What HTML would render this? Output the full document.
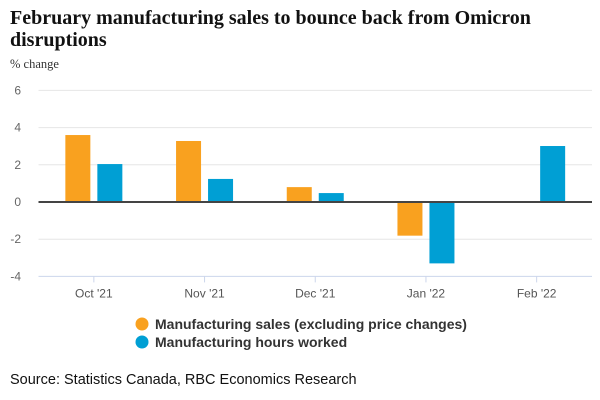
<!DOCTYPE html>
<html><head><meta charset="utf-8"><style>
html,body{margin:0;padding:0;background:#fff;}
body{width:600px;height:400px;overflow:hidden;position:relative;}
svg{position:absolute;left:0;top:0;}
</style></head><body>
<svg width="600" height="400" xmlns="http://www.w3.org/2000/svg">
<text x="10" y="24" font-family="Liberation Serif, serif" font-weight="bold" font-size="20" fill="#111">February manufacturing sales to bounce back from Omicron</text>
<text x="10" y="46" font-family="Liberation Serif, serif" font-weight="bold" font-size="20" fill="#111">disruptions</text>
<text x="10" y="68" font-family="Liberation Serif, serif" font-size="12.5" fill="#333">% change</text>
<g id="grid"></g><g id="bars"></g><g id="axes"></g>
<g>
<circle cx="142" cy="324" r="6.5" fill="#F9A11F"/>
<text x="155" y="329" font-family="Liberation Sans, sans-serif" font-weight="bold" font-size="14" fill="#333">Manufacturing sales (excluding price changes)</text>
<circle cx="142" cy="342" r="6.5" fill="#009FD4"/>
<text x="155" y="347" font-family="Liberation Sans, sans-serif" font-weight="bold" font-size="14" fill="#333">Manufacturing hours worked</text>
</g>
<text x="10" y="384" font-family="Liberation Sans, sans-serif" font-size="14.5" fill="#111">Source: Statistics Canada, RBC Economics Research</text>
</svg>
<script>
const categories=["Oct '21","Nov '21","Dec '21","Jan '22","Feb '22"];
const salesValues=[3.6,3.28,0.8,-1.81,null];
const hoursValues=[2.04,1.24,0.48,-3.3,3.01];
const yTicks=[6,4,2,0,-2,-4];
const NS="http://www.w3.org/2000/svg";
const L=38.5,R=592,Y0=202,PU=18.6;
const y=v=>Y0-v*PU;
const bw=(R-L)/categories.length;
const xc=i=>L+bw*(i+0.5);
function mk(t,a,p){const e=document.createElementNS(NS,t);for(const k in a)e.setAttribute(k,a[k]);p.appendChild(e);return e;}
const grid=document.getElementById('grid'),bars=document.getElementById('bars'),axes=document.getElementById('axes');
yTicks.forEach(v=>{
 if(v!==0&&v!==-4){const g=mk('line',{x1:L,x2:R,y1:y(v),y2:y(v),stroke:'#e6e6e6','stroke-width':1},grid);
 
 }
 const t=mk('text',{x:21,y:y(v)+4,'text-anchor':'end','font-family':'Liberation Sans, sans-serif','font-size':12,fill:'#666'},axes);
 t.textContent=v;
 
 
});
const W=25,G=3.5;
categories.forEach((c,i)=>{
 [[salesValues[i],'#F9A11F',-1,'bar-sales'],[hoursValues[i],'#009FD4',1,'bar-hours']].forEach(([v,col,s,n])=>{
  if(v==null)return;
  const x=s<0?xc(i)-G-W:xc(i)+G;
  const r=mk('rect',{x:x,y:Math.min(y(v),Y0),width:W,height:Math.abs(y(v)-Y0),fill:col},bars);
  
  
 });
 const tk=mk('line',{x1:xc(i),x2:xc(i),y1:y(-4),y2:y(-4)+6,stroke:'#ccd6eb'},axes);
 
 
 const t=mk('text',{x:xc(i),y:y(-4)+21,'text-anchor':'middle','font-family':'Liberation Sans, sans-serif','font-size':12,fill:'#555'},axes);
 t.textContent=c;
 
 
});
const ax=mk('line',{x1:L,x2:R,y1:y(-4),y2:y(-4),stroke:'#ccd6eb'},axes);


const z=mk('line',{x1:L,x2:R,y1:Y0,y2:Y0,stroke:'#444','stroke-width':2},axes);


</script>
</body></html>
